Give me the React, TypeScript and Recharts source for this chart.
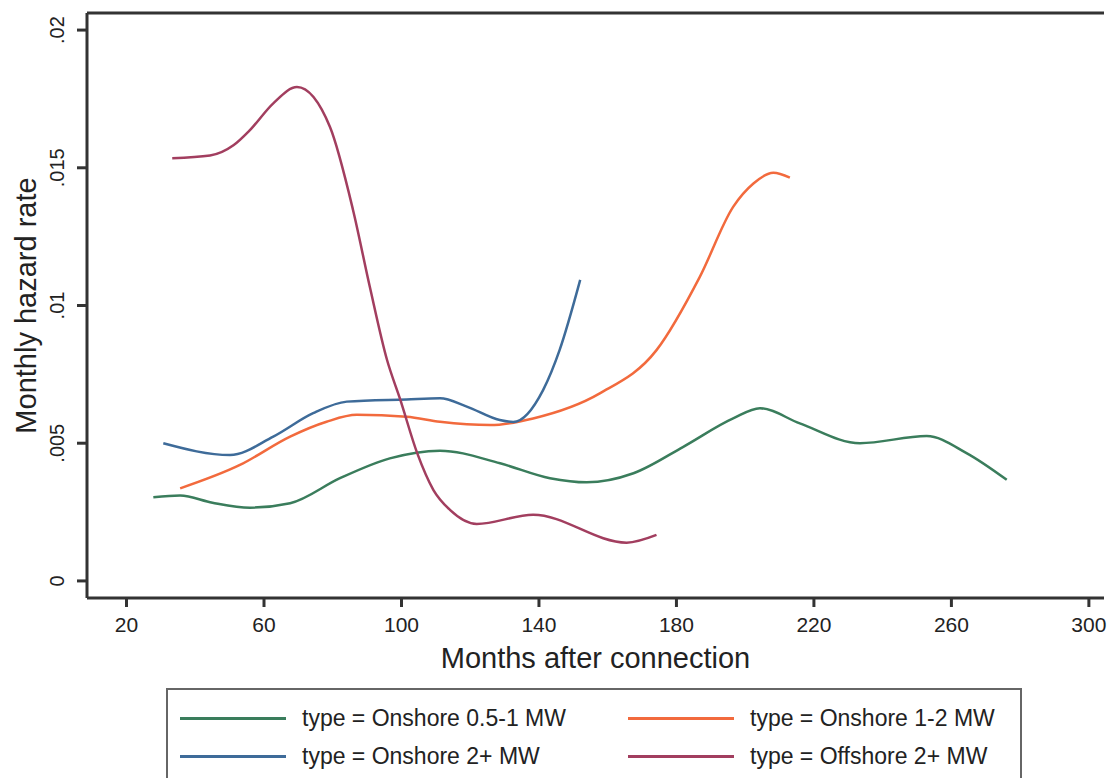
import { LineChart, Line, XAxis, YAxis, ReferenceLine } from "recharts";

// months after connection / monthly hazard rate
const onshoreSmallMonths = [27.8, 35.6, 45, 55.9, 67.6, 82.1, 96.6, 111.2, 128.7, 143.2, 153.9, 167.5, 182, 196.5, 204.3, 215.9, 233.4, 252.8, 264.4, 276.1];
const onshoreSmallRates = [0.00304, 0.0031, 0.00284, 0.00266, 0.00282, 0.00373, 0.00445, 0.00473, 0.00427, 0.00373, 0.00358, 0.00391, 0.00487, 0.0059, 0.00627, 0.00572, 0.005, 0.00526, 0.00464, 0.00367];

const onshoreMidMonths = [35.6, 53, 67.6, 78.2, 87, 101.5, 111.2, 125.8, 138.3, 157.7, 174.2, 186.8, 196.5, 202.4, 208.2, 213];
const onshoreMidRates = [0.00336, 0.00421, 0.00524, 0.00578, 0.00603, 0.00596, 0.00578, 0.00566, 0.0059, 0.00681, 0.00838, 0.01104, 0.01358, 0.01443, 0.01482, 0.01464];

const onshoreBigMonths = [30.7, 50.1, 62.7, 74.3, 84.1, 101.5, 111.2, 119, 128.6, 132.5, 141.2, 146, 152];
const onshoreBigRates = [0.005, 0.00457, 0.00524, 0.00609, 0.00651, 0.00659, 0.00663, 0.00633, 0.00584, 0.00577, 0.00693, 0.00838, 0.01093];

const offshoreMonths = [33.3, 44.3, 51.1, 55.9, 62.7, 69.6, 79.2, 85.9, 90.8, 95.8, 99.6, 104.6, 109.3, 114.1, 121.9, 138.3, 165.5, 174.2];
const offshoreRates = [0.01535, 0.01545, 0.01582, 0.01637, 0.01734, 0.01793, 0.01648, 0.01347, 0.01067, 0.00802, 0.0066, 0.00463, 0.0033, 0.00258, 0.00207, 0.0024, 0.00139, 0.00167];

const xTicks = [20, 60, 100, 140, 180, 220, 260, 300];
const yTicks = [0, 0.005, 0.01, 0.015, 0.02];
const yTickLabels = ["0", ".005", ".01", ".015", ".02"];

const toPoints = (months: number[], rates: number[]) =>
  months.map((m, i) => ({ month: m, rate: rates[i] }));

const series = [
  { name: "type = Onshore 0.5-1 MW", color: "#3a7d5c", data: toPoints(onshoreSmallMonths, onshoreSmallRates) },
  { name: "type = Onshore 1-2 MW", color: "#f26a3d", data: toPoints(onshoreMidMonths, onshoreMidRates) },
  { name: "type = Onshore 2+ MW", color: "#3e6b99", data: toPoints(onshoreBigMonths, onshoreBigRates) },
  { name: "type = Offshore 2+ MW", color: "#a23e5f", data: toPoints(offshoreMonths, offshoreRates) },
];

const FONT = "'Liberation Sans', Arial, Helvetica, sans-serif";
const AXIS = "#333";
const Y_TOP = 0.02062;

const YTick = (props: any) => {
  const { x, y, payload } = props;
  const idx = yTicks.indexOf(payload.value);
  return (
    <text
      x={x - 18}
      y={y}
      transform={`rotate(-90 ${x - 18} ${y})`}
      textAnchor="middle"
      dominantBaseline="central"
      fontSize={20}
      fontFamily={FONT}
      fill="#222"
    >
      {idx >= 0 ? yTickLabels[idx] : payload.value}
    </text>
  );
};

const LegendBox = () => (
  <div
    style={{
      position: "absolute",
      left: 166,
      top: 688,
      width: 852,
      height: 120,
      border: "2px solid #666",
      background: "#fff",
      fontFamily: FONT,
      fontSize: 23,
      color: "#222",
    }}
  >
    {series.map((s, i) => {
      const col = i % 2;
      const row = Math.floor(i / 2);
      return (
        <div
          key={s.name}
          style={{
            position: "absolute",
            left: col === 0 ? 12 : 460,
            top: row === 0 ? 14 : 52,
            display: "flex",
            alignItems: "center",
            height: 28,
            whiteSpace: "nowrap",
          }}
        >
          <span style={{ display: "inline-block", width: 106, height: 3, background: s.color, marginRight: 16 }} />
          <span>{s.name}</span>
        </div>
      );
    })}
  </div>
);

export default function App() {
  return (
    <div style={{ position: "fixed", left: 0, top: 0, width: 1109, height: 778, overflow: "hidden", background: "#fff" }}>
      <LineChart width={1109} height={778} margin={{ top: 13, right: 5, left: 0, bottom: 0 }}>
        <XAxis
          dataKey="month"
          type="number"
          domain={[8.5, 304.4]}
          ticks={xTicks}
          allowDataOverflow
          height={180}
          stroke={AXIS}
          strokeWidth={3}
          tickSize={9}
          tickMargin={10}
          tick={{ fontSize: 21, fontFamily: FONT, fill: "#222" }}
          label={{ value: "Months after connection", position: "insideTop", offset: 49, fontSize: 29, fontFamily: FONT, fill: "#222" }}
        />
        <YAxis
          type="number"
          domain={[-0.00062, Y_TOP]}
          ticks={yTicks}
          allowDataOverflow
          width={87}
          stroke={AXIS}
          strokeWidth={3}
          tickSize={10}
          tickMargin={2}
          tick={<YTick />}
          label={{ value: "Monthly hazard rate", angle: -90, position: "insideLeft", offset: 26, fontSize: 29, fontFamily: FONT, fill: "#222", style: { textAnchor: "middle" } }}
        />
        <ReferenceLine y={Y_TOP} stroke={AXIS} strokeWidth={3} ifOverflow="visible" />
        {series.map((s) => (
          <Line
            key={s.name}
            data={s.data}
            dataKey="rate"
            name={s.name}
            type="monotone"
            stroke={s.color}
            strokeWidth={2.5}
            dot={false}
            activeDot={false}
            isAnimationActive={false}
          />
        ))}
      </LineChart>
      <LegendBox />
    </div>
  );
}
